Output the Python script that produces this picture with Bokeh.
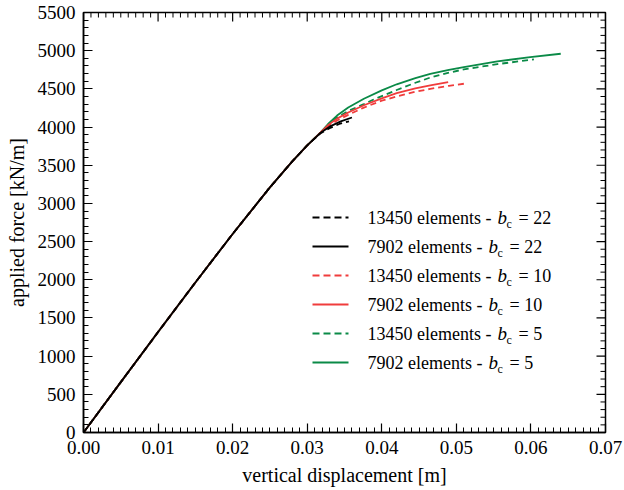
import numpy as np
from bokeh.plotting import figure
from bokeh.models import Range1d, SingleIntervalTicker, PrintfTickFormatter
from bokeh.core.properties import value
from bokeh.embed import file_html
from bokeh.resources import INLINE

# ---- data: vertical displacement [m] vs applied force [kN/m] ----
# elastic branch shared by every run
elastic_disp = [0.0, 0.005, 0.010, 0.015, 0.020, 0.025, 0.028, 0.030]
elastic_force = [0, 660, 1315, 1965, 2600, 3210, 3550, 3760]

# post-elastic branches, one per mesh / b_c combination
fine_b22_disp = [0.0318, 0.0330, 0.0343, 0.0356]
fine_b22_force = [3920, 3985, 4040, 4075]
coarse_b22_disp = [0.0318, 0.0330, 0.0345, 0.0360]
coarse_b22_force = [3925, 4005, 4075, 4125]

fine_b10_disp = [0.0318, 0.0328, 0.0340, 0.0355, 0.0376, 0.0400, 0.0420, 0.0445, 0.0465, 0.0490, 0.0511]
fine_b10_force = [3925, 4010, 4085, 4160, 4255, 4345, 4400, 4462, 4500, 4540, 4568]
coarse_b10_disp = [0.0318, 0.0328, 0.0340, 0.0355, 0.0376, 0.0400, 0.0420, 0.0445, 0.0465, 0.0489]
coarse_b10_force = [3930, 4025, 4110, 4190, 4285, 4375, 4445, 4505, 4545, 4588]

fine_b5_disp = [0.0318, 0.0328, 0.0340, 0.0355, 0.0376, 0.0389, 0.0420, 0.0445, 0.0465, 0.0490, 0.0510, 0.0555, 0.0604]
fine_b5_force = [3930, 4030, 4125, 4210, 4300, 4360, 4485, 4580, 4648, 4712, 4755, 4824, 4885]
coarse_b5_disp = [0.0318, 0.0328, 0.0340, 0.0355, 0.0376, 0.0400, 0.0420, 0.0445, 0.0465, 0.0490, 0.0510, 0.0555, 0.0599, 0.0640]
coarse_b5_force = [3930, 4040, 4150, 4255, 4370, 4480, 4560, 4640, 4695, 4750, 4785, 4860, 4915, 4960]

mesh_labels = ["13450 elements -", "7902 elements -"]
bc_values = ["22", "10", "5"]

BLACK = "#000000"
RED = "#f03c3c"
GREEN = "#0a8a47"
FONT = "Liberation Serif"

# (disp, force, colour, dashed, mesh index, b_c index) in legend order
series = [
    (fine_b22_disp, fine_b22_force, BLACK, True, 0, 0),
    (coarse_b22_disp, coarse_b22_force, BLACK, False, 1, 0),
    (fine_b10_disp, fine_b10_force, RED, True, 0, 1),
    (coarse_b10_disp, coarse_b10_force, RED, False, 1, 1),
    (fine_b5_disp, fine_b5_force, GREEN, True, 0, 2),
    (coarse_b5_disp, coarse_b5_force, GREEN, False, 1, 2),
]

X_MAX, Y_MAX = 0.07, 5500
X_MAJOR, X_MINOR = 0.01, 0.001
Y_MAJOR, Y_MINOR = 500, 100

p = figure(width=624, height=490, x_range=Range1d(0, X_MAX), y_range=Range1d(0, Y_MAX),
           output_backend="svg", toolbar_location=None,
           min_border_left=83, min_border_right=19, min_border_top=12, min_border_bottom=58,
           x_axis_label="vertical displacement [m]", y_axis_label="applied force [kN/m]")
p.xgrid.visible = False
p.ygrid.visible = False
p.outline_line_color = "black"
p.outline_line_width = 1.5
p.background_fill_color = "white"
p.border_fill_color = "white"

xaxis = p.below[0]
yaxis = p.left[0]
xaxis.ticker = SingleIntervalTicker(interval=X_MAJOR, num_minor_ticks=10)
yaxis.ticker = SingleIntervalTicker(interval=Y_MAJOR, num_minor_ticks=5)
xaxis.formatter = PrintfTickFormatter(format="%.2f")

for ax in [xaxis, yaxis]:
    ax.axis_line_width = 1.5
    ax.axis_line_color = "black"
    ax.major_tick_in = 9
    ax.major_tick_out = 0
    ax.minor_tick_in = 5
    ax.minor_tick_out = 0
    ax.major_tick_line_width = 1.2
    ax.minor_tick_line_width = 1.0
    ax.major_tick_line_color = "black"
    ax.minor_tick_line_color = "black"
    ax.major_label_text_font = FONT
    ax.major_label_text_font_size = "19px"
    ax.major_label_text_color = "black"
    ax.major_label_standoff = 8
    ax.axis_label_text_font = FONT
    ax.axis_label_text_font_size = "20px"
    ax.axis_label_text_font_style = "normal"
    ax.axis_label_text_color = "black"
    ax.axis_label_standoff = 7

# inward ticks along the top and right edges of the frame
top_ticks = np.round(np.arange(0, X_MAX + X_MINOR / 2, X_MINOR), 4)
top_major = np.isclose(np.round(top_ticks / X_MAJOR) * X_MAJOR, top_ticks)
right_ticks = np.arange(0, Y_MAX + 1, Y_MINOR)
right_major = right_ticks % Y_MAJOR == 0
for major, length, width in [(True, 9, 1.2), (False, 5, 1.0)]:
    xs = top_ticks[top_major == major]
    p.ray(x=xs, y=[Y_MAX] * len(xs), length=length, length_units="screen",
          angle=-np.pi / 2, line_color="black", line_width=width)
    ys = right_ticks[right_major == major]
    p.ray(x=[X_MAX] * len(ys), y=ys, length=length, length_units="screen",
          angle=np.pi, line_color="black", line_width=width)

# curves: green drawn first so the black runs sit on top
for disp, force, colour, dashed, _, _ in reversed(series):
    p.line(elastic_disp + disp, elastic_force + force, line_color=colour, line_width=1.8,
           line_dash="6 4" if dashed else "solid")

# ---- hand-built legend (placed in frame pixels) ----
FRAME_L, FRAME_R, FRAME_T, FRAME_B = 83, 605, 12, 432


def px_x(px):
    return (px - FRAME_L) / (FRAME_R - FRAME_L) * X_MAX


def px_y(py):
    return (FRAME_B - py) / (FRAME_B - FRAME_T) * Y_MAX


row_y = [217, 246, 275, 304, 333, 362]
sample_x0, sample_x1, text_x = 312, 348, 367
b_x = [497, 488]  # start of the italic b after each mesh label

for (disp, force, colour, dashed, mi, bi), ry in zip(series, row_y):
    p.segment(x0=[px_x(sample_x0)], y0=[px_y(ry)], x1=[px_x(sample_x1)], y1=[px_y(ry)],
              line_color=colour, line_width=1.8, line_dash="7 4" if dashed else "solid")
    p.text(x=[px_x(text_x)], y=[px_y(ry)], text=[mesh_labels[mi]], text_font=value(FONT),
           text_font_size="18px", text_baseline="middle", text_align="left", text_color="black")
    bx = b_x[mi]
    p.text(x=[px_x(bx)], y=[px_y(ry)], text=["b"], text_font=value(FONT), text_font_style="italic",
           text_font_size="19px", text_baseline="middle", text_align="left", text_color="black")
    p.text(x=[px_x(bx + 9)], y=[px_y(ry + 6)], text=["c"], text_font=value(FONT),
           text_font_size="12px", text_baseline="middle", text_align="left", text_color="black")
    p.text(x=[px_x(bx + 21)], y=[px_y(ry)], text=["= " + bc_values[bi]], text_font=value(FONT),
           text_font_size="18px", text_baseline="middle", text_align="left", text_color="black")

open("out.html", "w").write(file_html(p, INLINE))
